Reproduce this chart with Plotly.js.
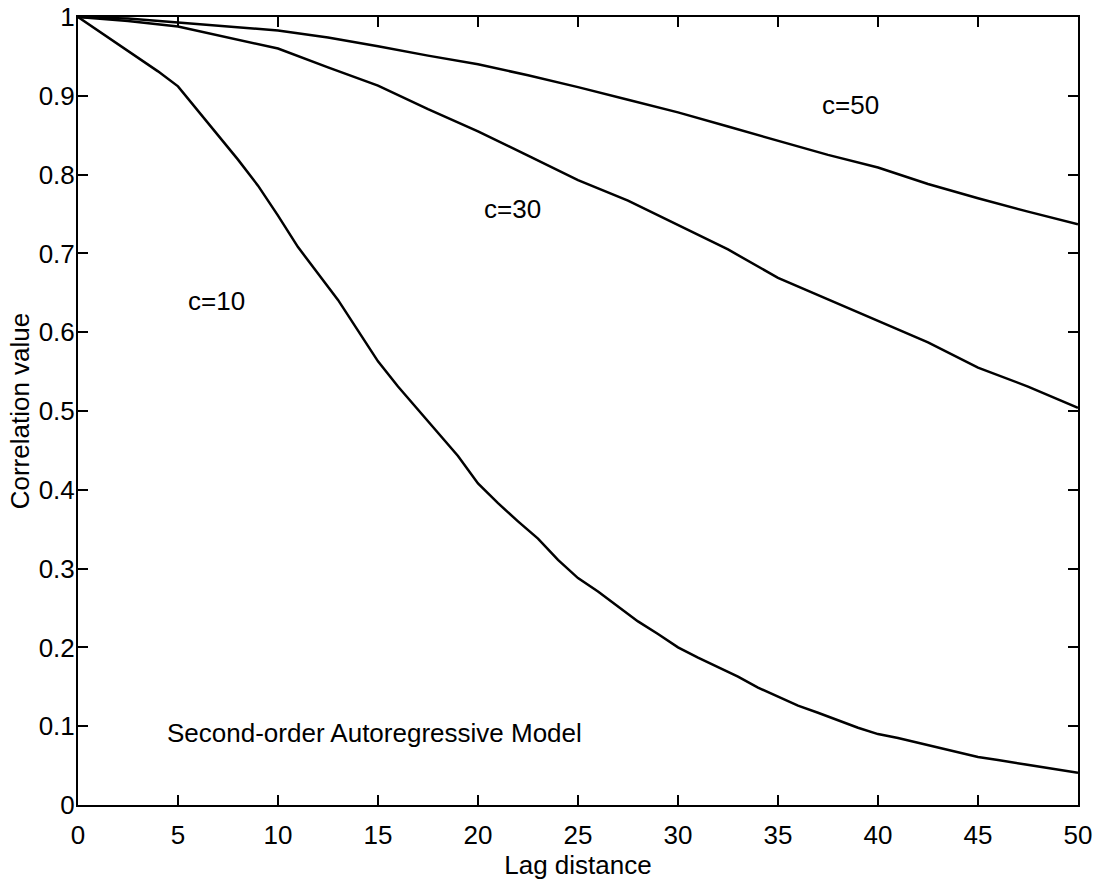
<!DOCTYPE html>
<html>
<head>
<meta charset="utf-8">
<script src="https://cdn.plot.ly/plotly-3.0.1.min.js"></script>
<style>html,body{margin:0;padding:0;background:#fff;}#chart{width:1099px;height:882px;}</style>
</head>
<body>
<div id="chart"></div>
<script>
// Lag distances and correlation values
const lagC10 = [0,1,2,3,4,5,6,7,8,9,10,11,12,13,14,15,16,17,18,19,20,21,22,23,24,25,26,27,28,29,30,31,32,33,34,35,36,37,38,39,40,41,42,43,44,45,46,47,48,49,50];
const corrC10 = [1.0,0.983,0.965,0.948,0.931,0.912,0.881,0.850,0.819,0.786,0.748,0.708,0.675,0.641,0.602,0.563,0.531,0.502,0.473,0.443,0.408,0.383,0.360,0.338,0.311,0.288,0.271,0.252,0.233,0.217,0.200,0.187,0.175,0.163,0.149,0.137,0.126,0.117,0.108,0.098,0.090,0.085,0.079,0.073,0.067,0.061,0.057,0.053,0.049,0.045,0.041];

const lagC30 = [0,2.5,5,7.5,10,12.5,15,17.5,20,22.5,25,27.5,30,32.5,35,37.5,40,42.5,45,47.5,50];
const corrC30 = [1.0,0.995,0.988,0.974,0.960,0.936,0.913,0.883,0.855,0.824,0.793,0.767,0.736,0.705,0.669,0.642,0.614,0.587,0.555,0.531,0.504];

const lagC50 = [0,2.5,5,7.5,10,12.5,15,17.5,20,22.5,25,27.5,30,32.5,35,37.5,40,42.5,45,47.5,50];
const corrC50 = [1.0,0.998,0.993,0.988,0.983,0.974,0.963,0.951,0.940,0.926,0.911,0.895,0.879,0.861,0.843,0.825,0.809,0.788,0.770,0.753,0.737];

const xTicks = [0,5,10,15,20,25,30,35,40,45,50];
const yTicks = [0,0.1,0.2,0.3,0.4,0.5,0.6,0.7,0.8,0.9,1];
const yTickText = ["0","0.1","0.2","0.3","0.4","0.5","0.6","0.7","0.8","0.9","1"];

const labels = [
  {text: "c=10", x: 6.93, y: 0.640},
  {text: "c=30", x: 21.7, y: 0.756},
  {text: "c=50", x: 38.6, y: 0.888},
  {text: "Second-order Autoregressive Model", x: 14.8, y: 0.0914}
];

const FONT = "Liberation Sans, Arial, Helvetica, sans-serif";
const FS = 26;
const lineStyle = {color: "#000", width: 2.5};

const traces = [
  {x: lagC10, y: corrC10, type: "scatter", mode: "lines", line: lineStyle, name: "c=10"},
  {x: lagC30, y: corrC30, type: "scatter", mode: "lines", line: lineStyle, name: "c=30"},
  {x: lagC50, y: corrC50, type: "scatter", mode: "lines", line: lineStyle, name: "c=50"}
];

const layout = {
  width: 1099, height: 882,
  paper_bgcolor: "#fff", plot_bgcolor: "#fff",
  showlegend: false,
  margin: {l: 78, r: 21, t: 17, b: 77},
  font: {family: FONT, size: FS, color: "#000"},
  xaxis: {
    range: [0, 50], tickvals: xTicks, ticktext: xTicks.map(String),
    ticks: "inside", ticklen: 10, tickwidth: 2, tickcolor: "#000",
    showline: true, linecolor: "#000", linewidth: 2, mirror: "ticks",
    showgrid: false, zeroline: false,
    ticklabelstandoff: 6,
    tickfont: {family: FONT, size: FS, color: "#000"},
    title: {text: "Lag distance", font: {family: FONT, size: FS, color: "#000"}, standoff: 2}
  },
  yaxis: {
    range: [0, 1], tickvals: yTicks, ticktext: yTickText,
    ticks: "inside", ticklen: 10, tickwidth: 2, tickcolor: "#000",
    showline: true, linecolor: "#000", linewidth: 2, mirror: "ticks",
    showgrid: false, zeroline: false,
    ticklabelstandoff: -4,
    tickfont: {family: FONT, size: FS, color: "#000"},
    title: {text: "Correlation value", font: {family: FONT, size: FS, color: "#000"}, standoff: 2}
  },
  annotations: labels.map(l => ({
    text: l.text, x: l.x, y: l.y, xref: "x", yref: "y",
    showarrow: false, xanchor: "center", yanchor: "middle",
    font: {family: FONT, size: FS, color: "#000"}
  }))
};

Plotly.newPlot("chart", traces, layout, {displayModeBar: false, staticPlot: true});
</script>
</body>
</html>
